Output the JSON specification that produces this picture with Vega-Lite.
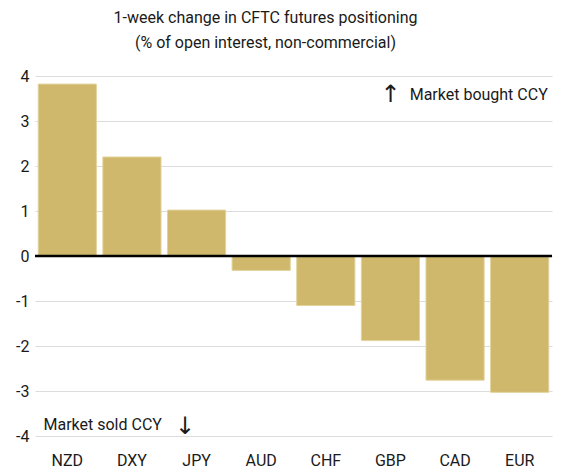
{
  "$schema": "https://vega.github.io/schema/vega-lite/v6.json",
  "width": 517,
  "height": 360,
  "autosize": {"type": "none"},
  "padding": {"left": 35, "top": 76, "right": 15, "bottom": 32},
  "background": "white",
  "config": {
    "font": "Roboto",
    "view": {"stroke": null},
    "axis": {"labelFont": "Roboto", "labelColor": "#1a1a1a", "labelFontSize": 16, "domain": false, "ticks": false, "gridColor": "#dcdcdc", "gridWidth": 1.2}
  },
  "title": {
    "text": ["1-week change in CFTC futures positioning", "(% of open interest, non-commercial)"],
    "fontSize": 16,
    "fontWeight": "normal",
    "color": "#1a1a1a",
    "font": "Roboto",
    "anchor": "middle",
    "offset": 17,
    "dx": -28,
    "lineHeight": 25
  },
  "datasets": {
    "bars": [
      {"ccy": "NZD", "value": 3.82},
      {"ccy": "DXY", "value": 2.2},
      {"ccy": "JPY", "value": 1.02},
      {"ccy": "AUD", "value": -0.32},
      {"ccy": "CHF", "value": -1.1},
      {"ccy": "GBP", "value": -1.88},
      {"ccy": "CAD", "value": -2.76},
      {"ccy": "EUR", "value": -3.03}
    ]
  },
  "layer": [
    {
      "data": {"name": "bars"},
      "mark": {"type": "bar", "color": "#cfb86b", "stroke": "#e2d39c", "strokeWidth": 1},
      "encoding": {
        "x": {"field": "ccy", "type": "nominal", "sort": null, "scale": {"domain": ["NZD", "DXY", "JPY", "AUD", "CHF", "GBP", "CAD", "EUR"], "paddingInner": 0.1, "paddingOuter": 0.05}, "axis": {"title": null, "labelAngle": 0, "labelPadding": 16, "grid": false}},
        "y": {"field": "value", "type": "quantitative", "scale": {"domain": [-4, 4]}, "axis": {"title": null, "values": [-4, -3, -2, -1, 0, 1, 2, 3, 4], "labelPadding": 6, "labelExpr": "datum.value < 0 ? '-' + abs(datum.value) : '' + datum.value"}}
      }
    },
    {
      "data": {"values": [{"v": 0}]},
      "mark": {"type": "rule", "color": "#000000", "strokeWidth": 2.5},
      "encoding": {"y": {"field": "v", "type": "quantitative"}}
    },
    {
      "data": {"values": [{"ccy": "EUR", "value": 3.58, "label": "Market bought CCY"}]},
      "mark": {"type": "text", "align": "right", "baseline": "middle", "fontSize": 16, "color": "#1a1a1a", "dx": -1},
      "encoding": {
        "x": {"field": "ccy", "type": "nominal", "bandPosition": 1},
        "y": {"field": "value", "type": "quantitative"},
        "text": {"field": "label"}
      }
    },
    {
      "data": {"values": [{"ccy": "NZD", "value": -3.76, "label": "Market sold CCY"}]},
      "mark": {"type": "text", "align": "left", "baseline": "middle", "fontSize": 16, "color": "#1a1a1a"},
      "encoding": {
        "x": {"field": "ccy", "type": "nominal", "bandPosition": 0.09},
        "y": {"field": "value", "type": "quantitative"},
        "text": {"field": "label"}
      }
    },
    {
      "data": {"values": [{"ccy": "GBP", "value": 3.58, "label": "↑"}]},
      "mark": {"type": "text", "align": "center", "baseline": "middle", "fontSize": 24, "font": "DejaVu Sans", "color": "#1a1a1a"},
      "encoding": {
        "x": {"field": "ccy", "type": "nominal", "bandPosition": 0.5},
        "y": {"field": "value", "type": "quantitative"},
        "text": {"field": "label"}
      }
    },
    {
      "data": {"values": [{"ccy": "JPY", "value": -3.8, "label": "↓"}]},
      "mark": {"type": "text", "align": "center", "baseline": "middle", "fontSize": 24, "font": "DejaVu Sans", "color": "#1a1a1a"},
      "encoding": {
        "x": {"field": "ccy", "type": "nominal", "bandPosition": 0.3},
        "y": {"field": "value", "type": "quantitative"},
        "text": {"field": "label"}
      }
    }
  ]
}
